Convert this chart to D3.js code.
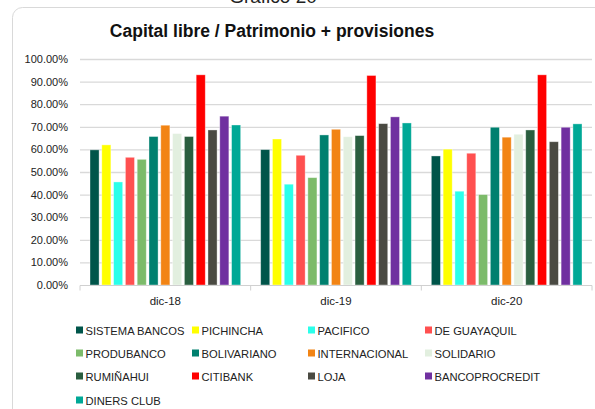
<!DOCTYPE html>
<html>
<head>
<meta charset="utf-8">
<script src="https://cdn.jsdelivr.net/npm/d3@7"></script>
<style>
  body { margin: 0; background: #fff; }
  svg { display: block; font-family: "Liberation Sans", Arial, sans-serif; }
</style>
</head>
<body>
<div id="chart"></div>
<script>
// chart data
const categories = ['dic-18', 'dic-19', 'dic-20'];
const banks = ['SISTEMA BANCOS', 'PICHINCHA', 'PACIFICO', 'DE GUAYAQUIL', 'PRODUBANCO', 'BOLIVARIANO',
    'INTERNACIONAL', 'SOLIDARIO', 'RUMIÑAHUI', 'CITIBANK', 'LOJA', 'BANCOPROCREDIT', 'DINERS CLUB'];
const bankColors = ['#00554a', '#ffff00', '#2bffea', '#ff5050', '#7cbb6a', '#00806f',
    '#f28414', '#e2efdf', '#2a5e3f', '#ff0000', '#4a4a42', '#7030a0', '#00a896'];
const dic18 = [0.598, 0.620, 0.456, 0.565, 0.556, 0.657, 0.707, 0.670, 0.657, 0.930, 0.686, 0.747, 0.708];
const dic19 = [0.599, 0.646, 0.446, 0.574, 0.475, 0.664, 0.689, 0.656, 0.661, 0.927, 0.714, 0.744, 0.717];
const dic20 = [0.571, 0.601, 0.415, 0.583, 0.400, 0.698, 0.654, 0.667, 0.686, 0.930, 0.634, 0.698, 0.713];
const yTicks = [0, 0.1, 0.2, 0.3, 0.4, 0.5, 0.6, 0.7, 0.8, 0.9, 1.0];

const seriesValues = [dic18, dic19, dic20];

const width = 595;
const height = 409;
const plot = {left: 80, right: 592, top: 59, bottom: 285};

const svg = d3.select('#chart')
    .append('svg')
    .attr('width', width)
    .attr('height', height);

// frame and outer caption (cut at the top, as in the source)
svg.append('text')
    .attr('x', 273)
    .attr('y', 3)
    .attr('text-anchor', 'middle')
    .attr('font-size', 19)
    .attr('fill', '#222')
    .text('Gráfico 20');

svg.append('rect')
    .attr('x', 12.5)
    .attr('y', 7.5)
    .attr('width', 620)
    .attr('height', 430)
    .attr('rx', 10)
    .attr('fill', '#fff')
    .attr('stroke', '#d9d9d9');

svg.append('text')
    .attr('x', 272)
    .attr('y', 37)
    .attr('text-anchor', 'middle')
    .attr('font-size', 17.5)
    .attr('font-weight', 'bold')
    .attr('fill', '#111')
    .text('Capital libre / Patrimonio + provisiones');

// scales
const x0 = d3.scaleBand()
    .domain(categories)
    .range([plot.left, plot.right]);

const x1 = d3.scaleBand()
    .domain(banks)
    .range([10, x0.bandwidth() - 10])
    .paddingInner(0.23);

const y = d3.scaleLinear()
    .domain([0, 1])
    .range([plot.bottom, plot.top]);

// gridlines
svg.append('g')
    .selectAll('line')
    .data(yTicks.slice(1))
    .join('line')
    .attr('x1', plot.left)
    .attr('x2', plot.right)
    .attr('y1', d => y(d) + 0.5)
    .attr('y2', d => y(d) + 0.5)
    .attr('stroke', '#d9d9d9')
    .attr('stroke-width', 1.3);

// y axis labels
const yAxis = svg.append('g')
    .attr('transform', 'translate(' + plot.left + ',0)')
    .call(d3.axisLeft(y).tickValues(yTicks).tickFormat(d3.format('.2%')).tickSize(0).tickPadding(12));
yAxis.select('.domain').remove();
yAxis.selectAll('text')
    .attr('font-size', 11)
    .attr('fill', '#222')
    .attr('font-family', '"Liberation Sans", Arial, sans-serif');

// bars
const groups = svg.append('g')
    .selectAll('g')
    .data(categories)
    .join('g')
    .attr('transform', d => 'translate(' + x0(d) + ',0)');

groups.selectAll('rect')
    .data((d, i) => banks.map((b, j) => ({bank: b, value: seriesValues[i][j], color: bankColors[j]})))
    .join('rect')
    .attr('x', d => x1(d.bank))
    .attr('y', d => y(d.value))
    .attr('width', x1.bandwidth())
    .attr('height', d => y(0) - y(d.value))
    .attr('fill', d => d.color)
    .attr('stroke', '#ffffff')
    .attr('stroke-opacity', 0.45)
    .attr('stroke-width', 0.8);

// x axis
const xAxis = svg.append('g')
    .attr('transform', 'translate(0,' + (plot.bottom + 0.5) + ')');
xAxis.append('line')
    .attr('x1', plot.left)
    .attr('x2', plot.right)
    .attr('stroke', '#d0d0d0')
    .attr('stroke-width', 1.2);
xAxis.selectAll('.tick-mark')
    .data(categories.concat(['end']))
    .join('line')
    .attr('class', 'tick-mark')
    .attr('x1', (d, i) => plot.left + i * x0.bandwidth())
    .attr('x2', (d, i) => plot.left + i * x0.bandwidth())
    .attr('y1', 0)
    .attr('y2', 5)
    .attr('stroke', '#d0d0d0');
xAxis.selectAll('.cat-label')
    .data(categories)
    .join('text')
    .attr('class', 'cat-label')
    .attr('x', d => x0(d) + x0.bandwidth() / 2)
    .attr('y', 19)
    .attr('text-anchor', 'middle')
    .attr('font-size', 11.5)
    .attr('fill', '#222')
    .text(d => d);

// legend
const legendCols = [76, 192, 308, 425];
const legendRows = [330, 353, 376, 400];
const legend = svg.append('g')
    .selectAll('g')
    .data(banks)
    .join('g')
    .attr('transform', (d, i) => 'translate(' + legendCols[i % 4] + ',' + legendRows[Math.floor(i / 4)] + ')');
legend.append('rect')
    .attr('x', 0)
    .attr('y', -3.5)
    .attr('width', 7)
    .attr('height', 7)
    .attr('fill', (d, i) => bankColors[i]);
legend.append('text')
    .attr('x', 9.5)
    .attr('y', 4.5)
    .attr('font-size', 11.2)
    .attr('fill', '#222')
    .text(d => d);
</script>
</body>
</html>
